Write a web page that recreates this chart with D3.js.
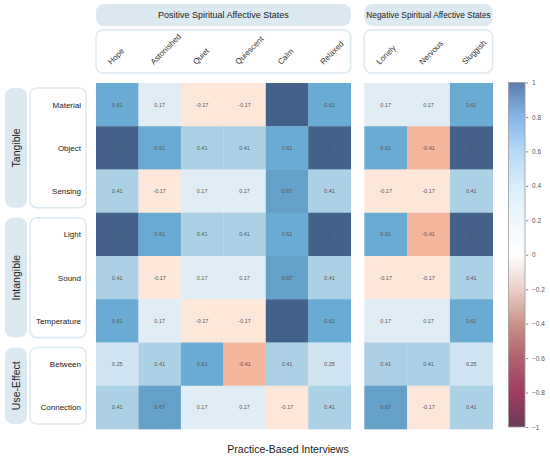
<!DOCTYPE html>
<html>
<head>
<meta charset="utf-8">
<script src="https://cdn.jsdelivr.net/npm/d3@7"></script>
<style>
  body { margin: 0; background: #fff; }
  svg { font-family: "Liberation Sans", Arial, sans-serif; }
</style>
</head>
<body>
<div id="chart"></div>
<script>
// categories
var posCols = ["Hope", "Astonished", "Quiet", "Quiescent", "Calm", "Relaxed"];
var negCols = ["Lonely", "Nervous", "Sluggish"];
var rowNames = ["Material", "Object", "Sensing", "Light", "Sound", "Temperature", "Between", "Connection"];
var groupNames = ["Tangible", "Intangible", "Use-Effect"];
var groupSizes = [3, 3, 2];
var headerNames = ["Positive Spiritual Affective States", "Negative Spiritual Affective States"];

// values, one row per rowNames entry (positive columns then negative)
var posValues = [
    [0.61, 0.17, -0.17, -0.17, 1, 0.61],
    [1, 0.61, 0.41, 0.41, 0.61, 1],
    [0.41, -0.17, 0.17, 0.17, 0.67, 0.41],
    [1, 0.61, 0.41, 0.41, 0.61, 1],
    [0.41, -0.17, 0.17, 0.17, 0.67, 0.41],
    [0.61, 0.17, -0.17, -0.17, 1, 0.61],
    [0.25, 0.41, 0.61, -0.41, 0.41, 0.25],
    [0.41, 0.67, 0.17, 0.17, -0.17, 0.41]
];
var negValues = [
    [0.17, 0.17, 0.61],
    [0.61, -0.41, 1],
    [-0.17, -0.17, 0.41],
    [0.61, -0.41, 1],
    [-0.17, -0.17, 0.41],
    [0.17, 0.17, 0.61],
    [0.41, 0.41, 0.25],
    [0.67, -0.17, 0.41]
];
var legendTicks = [-1, -0.8, -0.6, -0.4, -0.2, 0, 0.2, 0.4, 0.6, 0.8, 1];
var xTitle = "Practice-Based Interviews";

var width = 550, height = 458;
var svg = d3.select("#chart").append("svg")
    .attr("width", width)
    .attr("height", height);

var boxFill = "#dce9f1";

// cell colour scale
var cellColor = d3.scaleLinear()
    .domain([-1, -0.41, -0.17, 0.17, 0.41, 0.61, 1])
    .range(["#c23a4a", "#f4b69c", "#fde6da", "#e0edf5", "#acd1e5", "#6aabd3", "#436189"]);

var y = d3.scaleBand().domain(rowNames).range([83, 429]);
var xPos = d3.scaleBand().domain(posCols).range([96, 350.7]);
var xNeg = d3.scaleBand().domain(negCols).range([364.3, 492.7]);

function drawBlock(xs, cols, values) {
    var cells = [];
    values.forEach(function(row, i) {
        row.forEach(function(v, j) {
            cells.push({row: rowNames[i], col: cols[j], v: v});
        });
    });
    var g = svg.append("g");
    g.selectAll("rect")
        .data(cells)
        .enter()
        .append("rect")
        .attr("x", function(d) { return xs(d.col); })
        .attr("y", function(d) { return y(d.row); })
        .attr("width", xs.bandwidth() + 0.3)
        .attr("height", y.bandwidth() + 0.3)
        .attr("fill", function(d) { return cellColor(d.v); });
    g.selectAll("text")
        .data(cells)
        .enter()
        .append("text")
        .attr("x", function(d) { return xs(d.col) + xs.bandwidth() / 2; })
        .attr("y", function(d) { return y(d.row) + y.bandwidth() / 2 + 2; })
        .attr("text-anchor", "middle")
        .attr("font-size", 5.5)
        .attr("fill", "#555")
        .text(function(d) { return d.v; });

    // header box with column names
    var x0 = xs.range()[0], x1 = xs.range()[1];
    svg.append("rect")
        .attr("x", x0).attr("y", 30)
        .attr("width", x1 - x0).attr("height", 43)
        .attr("rx", 7)
        .attr("fill", "#fff")
        .attr("stroke", boxFill)
        .attr("stroke-width", 1.5);
    svg.append("g").selectAll("text")
        .data(cols)
        .enter()
        .append("text")
        .attr("transform", function(d) {
            return "translate(" + (xs(d) + xs.bandwidth() / 2 - 6) + ",65) rotate(-45)";
        })
        .attr("font-size", 8)
        .attr("fill", "#333")
        .text(function(d) { return d; });
}

drawBlock(xPos, posCols, posValues);
drawBlock(xNeg, negCols, negValues);

// top titles
[[xPos, 9], [xNeg, 8.3]].forEach(function(p, i) {
    var x0 = p[0].range()[0], x1 = p[0].range()[1];
    svg.append("rect")
        .attr("x", x0).attr("y", 4)
        .attr("width", x1 - x0).attr("height", 22)
        .attr("rx", 8)
        .attr("fill", boxFill);
    svg.append("text")
        .attr("x", (x0 + x1) / 2).attr("y", 18)
        .attr("text-anchor", "middle")
        .attr("font-size", p[1])
        .attr("fill", "#222")
        .text(headerNames[i]);
});

// row group boxes on the left
var start = 0;
groupNames.forEach(function(name, gi) {
    var first = rowNames[start], last = rowNames[start + groupSizes[gi] - 1];
    var top = y(first) + 5, bot = y(last) + y.bandwidth() - 5;
    svg.append("rect")
        .attr("x", 5).attr("y", top)
        .attr("width", 22).attr("height", bot - top)
        .attr("rx", 8)
        .attr("fill", boxFill);
    svg.append("text")
        .attr("transform", "translate(20," + ((top + bot) / 2) + ") rotate(-90)")
        .attr("text-anchor", "middle")
        .attr("font-size", 10.5)
        .attr("fill", "#222")
        .text(name);
    svg.append("rect")
        .attr("x", 30).attr("y", top)
        .attr("width", 56).attr("height", bot - top)
        .attr("rx", 7)
        .attr("fill", "#fff")
        .attr("stroke", boxFill)
        .attr("stroke-width", 1.5);
    start += groupSizes[gi];
});

svg.append("g").selectAll("text")
    .data(rowNames)
    .enter()
    .append("text")
    .attr("x", 81)
    .attr("y", function(d) { return y(d) + y.bandwidth() / 2 + 3; })
    .attr("text-anchor", "end")
    .attr("font-size", 8)
    .attr("fill", "#222")
    .text(function(d) { return d; });

// x title
svg.append("text")
    .attr("x", 288).attr("y", 453)
    .attr("text-anchor", "middle")
    .attr("font-size", 10.5)
    .attr("fill", "#222")
    .text(xTitle);

// colour bar
var legendScale = d3.scaleLinear().domain([-1, 1]).range([427, 82.5]);
var gradColors = ["#6b3c58", "#a03b62", "#b0616e", "#c99287", "#ead0c8", "#ffffff",
                  "#eef7fc", "#d8eefb", "#b5d8f5", "#88b6e8", "#5b7cae"];
var defs = svg.append("defs");
var grad = defs.append("linearGradient")
    .attr("id", "cbar")
    .attr("x1", 0).attr("y1", 1).attr("x2", 0).attr("y2", 0);
grad.selectAll("stop")
    .data(legendTicks)
    .enter()
    .append("stop")
    .attr("offset", function(d, i) { return (d + 1) / 2; })
    .attr("stop-color", function(d, i) { return gradColors[i]; });

svg.append("rect")
    .attr("x", 508.5).attr("y", legendScale(1))
    .attr("width", 16.5).attr("height", legendScale(-1) - legendScale(1))
    .attr("fill", "url(#cbar)")
    .attr("stroke", "#999")
    .attr("stroke-width", 0.8);

var axis = d3.axisRight(legendScale)
    .tickValues(legendTicks)
    .tickSize(2)
    .tickPadding(4)
    .tickFormat(d3.format("~g"));
var ag = svg.append("g")
    .attr("transform", "translate(526,0)")
    .call(axis);
ag.select(".domain").remove();
ag.selectAll("line").attr("stroke", "#888");
ag.selectAll("text")
    .attr("font-size", 6.5)
    .attr("fill", "#555")
    .attr("font-family", "Liberation Sans, Arial, sans-serif");
</script>
</body>
</html>
